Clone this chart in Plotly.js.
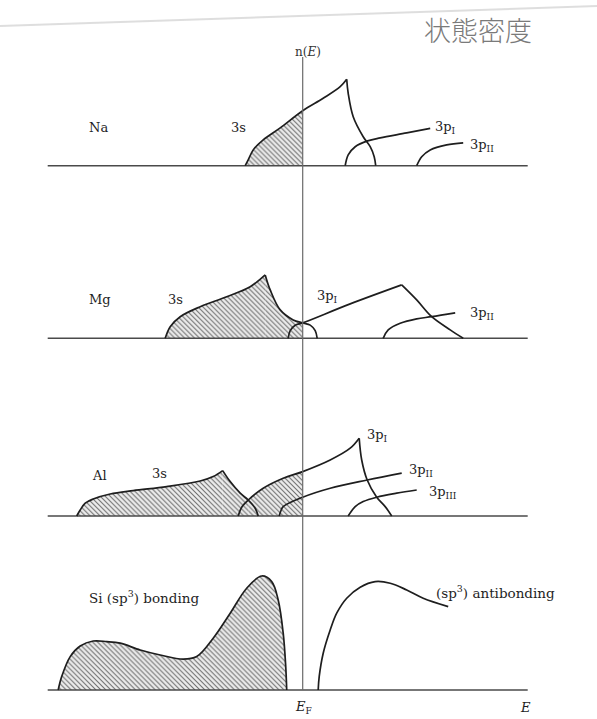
<!DOCTYPE html>
<html>
<head>
<meta charset="utf-8">
<script src="https://cdn.plot.ly/plotly-3.0.1.min.js"></script>
<style>
  html, body { margin: 0; padding: 0; background: #ffffff; }
  #dos { width: 597px; height: 719px; }
</style>
</head>
<body>
<div id="dos"></div>
<script>
// Density of states n(E) of Na, Mg, Al and Si (sketch, arbitrary units).
// Energy E is measured from the Fermi level E_F = 0.

// ---- Na ----
const naS_E     = [-1.15, -1.09, -0.99, -0.79, -0.45, 0, 0.41, 0.75, 0.88];
const naS_n     = [0, 0.29, 0.79, 1.29, 1.89, 2.75, 3.37, 3.95, 4.32];
const naSTail_E = [0.88, 0.91, 1.01, 1.21, 1.35, 1.43, 1.46];
const naSTail_n = [4.32, 3.62, 2.45, 1.45, 0.95, 0.45, 0];
const naP1_E    = [0.85, 0.91, 1.05, 1.30, 1.55, 2.08, 2.55];
const naP1_n    = [0, 0.54, 0.95, 1.24, 1.39, 1.64, 1.87];
const naP2_E    = [2.28, 2.38, 2.55, 2.88, 3.21];
const naP2_n    = [0, 0.45, 0.79, 1.04, 1.14];

// ---- Mg ----
const mgS_E     = [-2.75, -2.65, -2.45, -2.05, -1.52, -1.05, -0.75];
const mgS_n     = [0, 0.58, 1.08, 1.58, 2.08, 2.58, 3.17];
const mgSTail_E = [-0.75, -0.65, -0.45, -0.19, 0, 0.15, 0.25, 0.29];
const mgSTail_n = [3.17, 2.42, 1.42, 0.92, 0.77, 0.66, 0.38, 0];
const mgP1_E    = [-0.29, -0.25, -0.15, 0, 0.95, 1.98];
const mgP1_n    = [0, 0.38, 0.65, 0.77, 1.72, 2.67];
const mgP1Tail_E = [1.98, 2.28, 2.58, 2.95, 3.21];
const mgP1Tail_n = [2.67, 1.92, 1.08, 0.42, 0];
const mgP2_E    = [1.61, 1.71, 1.95, 2.28, 2.58, 3.05];
const mgP2_n    = [0, 0.42, 0.75, 0.97, 1.08, 1.27];

// ---- Al ----
const alS_E     = [-4.52, -4.45, -4.35, -4.19, -3.85, -3.39, -2.72, -2.05, -1.79, -1.60];
const alS_n     = [0, 0.30, 0.64, 0.85, 1.10, 1.27, 1.47, 1.75, 1.97, 2.27];
const alSTail_E = [-1.60, -1.45, -1.25, -1.09, -0.95, -0.89];
const alSTail_n = [2.27, 1.72, 1.14, 0.80, 0.39, 0];
const alP1_E    = [-1.29, -1.22, -1.09, -0.79, -0.39, 0, 0.55, 0.95, 1.13];
const alP1_n    = [0, 0.44, 0.80, 1.39, 1.89, 2.22, 2.80, 3.39, 3.89];
const alP1Tail_E = [1.13, 1.18, 1.29, 1.48, 1.65, 1.78];
const alP1Tail_n = [3.89, 2.80, 1.80, 0.94, 0.47, 0];
const alP2_E    = [-0.47, -0.43, -0.39, 0, 0.55, 1.29, 1.98];
const alP2_n    = [0, 0.30, 0.47, 0.94, 1.39, 1.80, 2.14];
const alP3_E    = [0.91, 1.05, 1.21, 1.48, 1.88, 2.28];
const alP3_n    = [0, 0.47, 0.72, 0.94, 1.14, 1.30];

// ---- Si (sp3 hybrids) ----
const siB_E = [-4.89, -4.82, -4.65, -4.45, -4.19, -3.92, -3.65, -3.25, -2.85, -2.39,
               -2.12, -1.79, -1.45, -1.12, -0.82, -0.62, -0.49, -0.39, -0.34, -0.32];
const siB_n = [0, 0.67, 1.67, 2.20, 2.45, 2.42, 2.34, 2.00, 1.75, 1.54,
               1.67, 2.59, 3.84, 5.09, 5.70, 5.42, 4.50, 2.84, 1.20, 0];
const siA_E = [0.31, 0.33, 0.41, 0.55, 0.68, 0.88, 1.15, 1.45, 1.75, 2.08, 2.41, 2.91];
const siA_n = [0, 0.67, 1.84, 3.00, 3.84, 4.59, 5.14, 5.42, 5.34, 5.00, 4.59, 4.17];

// Energy axis extent and the Fermi level marker
const axisE = [-5.1, 4.5];
const fermiE = 0;
const fermiTop = 31.65;   // top of the E_F line, in Si-panel n units

// Panel labels
const panelNames = ['Na', 'Mg', 'Al', 'Si (sp<sup>3</sup>) bonding'];

// ---------------------------------------------------------------
const INK = '#1e1e1e';
const SERIF = 'DejaVu Serif, Liberation Serif, serif';

function curve(E, n, axis) {
  return {
    type: 'scatter', mode: 'lines', x: E, y: n, yaxis: axis,
    line: { color: INK, width: 1.7, shape: 'spline', smoothing: 1 },
    hoverinfo: 'skip', showlegend: false
  };
}

// Part of a curve whose energies lie in [lo, hi]
function slice(E, n, lo, hi) {
  const xs = [], ys = [];
  E.forEach((e, i) => { if (e >= lo - 1e-9 && e <= hi + 1e-9) { xs.push(e); ys.push(n[i]); } });
  return [xs, ys];
}

// Hatched occupied states
function filled(E, n, axis) {
  return {
    type: 'scatter', mode: 'lines', x: E, y: n, yaxis: axis,
    fill: 'tozeroy',
    fillcolor: '#ededed',
    fillpattern: { shape: '\\', fgcolor: '#6c6c6c', bgcolor: '#ededed', size: 3.5, solidity: 0.3 },
    line: { width: 0, shape: 'spline', smoothing: 1, color: 'rgba(0,0,0,0)' },
    hoverinfo: 'skip', showlegend: false
  };
}

function baseline(axis) {
  return {
    type: 'scatter', mode: 'lines', x: axisE, y: [0, 0], yaxis: axis,
    line: { color: '#4a4a4a', width: 1.6 },
    hoverinfo: 'skip', showlegend: false
  };
}

const traces = [];

// occupied (hatched) regions up to E_F
traces.push(filled(...slice(naS_E, naS_n, -99, fermiE), 'y'));
traces.push(filled(mgS_E, mgS_n, 'y2'));
traces.push(filled(...slice(mgSTail_E, mgSTail_n, -99, fermiE), 'y2'));
traces.push(filled(alS_E, alS_n, 'y3'));
traces.push(filled(...slice(alSTail_E, alSTail_n, -99, -1.09), 'y3'));
traces.push(filled(...slice(alP1_E, alP1_n, -1.09, fermiE), 'y3'));
traces.push(filled(siB_E, siB_n, 'y4'));

// energy axes
['y', 'y2', 'y3', 'y4'].forEach(a => traces.push(baseline(a)));

// Fermi level
traces.push({
  type: 'scatter', mode: 'lines', x: [fermiE, fermiE], y: [0, fermiTop], yaxis: 'y4',
  line: { color: '#6a6a6a', width: 1.2 }, hoverinfo: 'skip', showlegend: false
});

// band curves
traces.push(curve(naS_E, naS_n, 'y'), curve(naSTail_E, naSTail_n, 'y'),
            curve(naP1_E, naP1_n, 'y'), curve(naP2_E, naP2_n, 'y'));
traces.push(curve(mgS_E, mgS_n, 'y2'), curve(mgSTail_E, mgSTail_n, 'y2'),
            curve(mgP1_E, mgP1_n, 'y2'), curve(mgP1Tail_E, mgP1Tail_n, 'y2'),
            curve(mgP2_E, mgP2_n, 'y2'));
traces.push(curve(alS_E, alS_n, 'y3'), curve(alSTail_E, alSTail_n, 'y3'),
            curve(alP1_E, alP1_n, 'y3'), curve(alP1Tail_E, alP1Tail_n, 'y3'),
            curve(alP2_E, alP2_n, 'y3'), curve(alP3_E, alP3_n, 'y3'));
traces.push(curve(siB_E, siB_n, 'y4'), curve(siA_E, siA_n, 'y4'));

// ---------------------------------------------------------------
// Each panel has its own n axis (20 px per unit) sharing one energy axis (50 px per unit).
const W = 597, H = 719, EF_PX = 302.7, PX_E = 50, PX_N = 20;
function nRange(basePx) { return [-(H - basePx) / PX_N, basePx / PX_N]; }
const hidden = { visible: false, showgrid: false, zeroline: false, fixedrange: true };

function label(text, x, y, yref, opts) {
  return Object.assign({
    text: text, x: x, y: y, xref: 'x', yref: yref, showarrow: false,
    font: { family: SERIF, size: 13, color: INK }, xanchor: 'center', yanchor: 'middle'
  }, opts || {});
}

const annotations = [
  label('n(<i>E</i>)', 0.11, 5.69, 'y', { font: { family: SERIF, size: 12, color: '#333' } }),
  label(panelNames[0], -4.09, 1.89, 'y'),
  label('3s', -1.29, 1.89, 'y'),
  label('3p<sub>I</sub>', 2.60, 1.89, 'y', { xanchor: 'left' }),
  label('3p<sub>II</sub>', 3.30, 0.99, 'y', { xanchor: 'left' }),

  label(panelNames[1], -4.05, 1.92, 'y2'),
  label('3s', -2.55, 1.92, 'y2'),
  label('3p<sub>I</sub>', 0.49, 2.07, 'y2'),
  label('3p<sub>II</sub>', 3.30, 1.22, 'y2', { xanchor: 'left' }),

  label(panelNames[2], -4.07, 2.05, 'y3'),
  label('3s', -2.87, 2.15, 'y3'),
  label('3p<sub>I</sub>', 1.49, 4.05, 'y3'),
  label('3p<sub>II</sub>', 2.09, 2.30, 'y3', { xanchor: 'left' }),
  label('3p<sub>III</sub>', 2.49, 1.20, 'y3', { xanchor: 'left' }),

  label(panelNames[3], -4.31, 4.65, 'y4', { xanchor: 'left', font: { family: SERIF, size: 13.5, color: INK } }),
  label('(sp<sup>3</sup>) antibonding', 2.62, 4.90, 'y4', { xanchor: 'left', font: { family: SERIF, size: 13.5, color: INK } }),
  label('<i>E</i><sub>F</sub>', 0.02, -0.85, 'y4'),
  label('<i>E</i>', 4.45, -0.85, 'y4'),

  { text: '状態密度', xref: 'paper', yref: 'paper', x: 478 / W, y: 1 - 30 / H,
    showarrow: false, xanchor: 'center', yanchor: 'middle',
    font: { family: 'Noto Sans CJK JP', size: 27, color: '#7a7a7a', weight: 300 } }
];

const layout = {
  width: W, height: H,
  margin: { l: 0, r: 0, t: 0, b: 0, pad: 0 },
  paper_bgcolor: '#ffffff', plot_bgcolor: '#ffffff',
  showlegend: false,
  xaxis: Object.assign({ range: [(0 - EF_PX) / PX_E, (W - EF_PX) / PX_E] }, hidden),
  yaxis:  Object.assign({ range: nRange(165.7) }, hidden),
  yaxis2: Object.assign({ range: nRange(338.3), overlaying: 'y' }, hidden),
  yaxis3: Object.assign({ range: nRange(516.0), overlaying: 'y' }, hidden),
  yaxis4: Object.assign({ range: nRange(690.0), overlaying: 'y' }, hidden),
  annotations: annotations,
  shapes: [
    { type: 'line', xref: 'paper', yref: 'paper', x0: 0, y0: 1 - 26 / H, x1: 1, y1: 1 - 6 / H,
      line: { color: 'rgba(160,160,160,0.35)', width: 2 } }
  ]
};

Plotly.newPlot('dos', traces, layout, { staticPlot: true, displayModeBar: false });
</script>
</body>
</html>
